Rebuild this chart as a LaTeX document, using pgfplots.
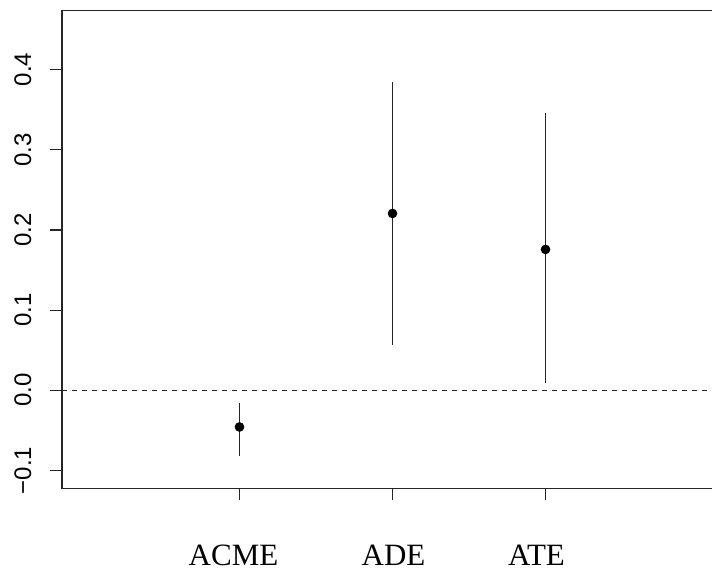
\documentclass[border=0pt]{standalone}
\usepackage{fontspec}
\setmainfont{Liberation Serif}
\setsansfont{Liberation Sans}
\usepackage{pgfplots}
\pgfplotsset{compat=1.18}

\begin{document}
\begin{tikzpicture}
\begin{axis}[
    at={(31pt,42.35pt)},
    anchor=south west,
    scale only axis,
    width=330.5pt,
    height=238.9pt,
    xmin=-0.16, xmax=4.16,
    ymin=-0.1223, ymax=0.4738,
    clip=false,
    axis line style={line width=0.75pt, black!85},
    tick style={line width=0.6pt, black!85},
    tick align=outside,
    major tick length=5.8pt,
    xtick pos=left,
    ytick pos=left,
    xtick={1,2,3},
    xticklabels={},
    ytick={-0.1,0,0.1,0.2,0.3,0.4},
    yticklabels={−0.1,0.0,0.1,0.2,0.3,0.4},
    yticklabel style={xshift=-6pt, rotate=90, anchor=south, font=\sffamily\fontsize{12}{12}\selectfont},
]
% confidence intervals and point estimates
\addplot[
    only marks,
    mark=*,
    mark size=2.2pt,
    mark options={fill=black, draw=black},
    error bars/.cd,
    y dir=both,
    y explicit,
    error mark=none,
    error bar style={line width=0.55pt, black!85},
] coordinates {
    (1, -0.0458) += (0, 0.0299) -= (0, 0.0366)
    (2, 0.2206)  += (0, 0.1643) -= (0, 0.1646)
    (3, 0.1757)  += (0, 0.1697) -= (0, 0.1670)
};

% reference line at zero
\draw[dash pattern=on 2.5pt off 2.5pt, line width=0.5pt, black!85]
    (axis cs:-0.16,0) -- (axis cs:4.16,0);

% category labels
\node[anchor=base, font=\fontsize{15.5}{15.5}\selectfont] at (axis cs:0.961,-0.2185) {ACME};
\node[anchor=base, font=\fontsize{15.5}{15.5}\selectfont] at (axis cs:2.007,-0.2185) {ADE};
\node[anchor=base, font=\fontsize{15.5}{15.5}\selectfont] at (axis cs:2.941,-0.2185) {ATE};
\end{axis}
\pgfresetboundingbox
\path[use as bounding box] (0,0) rectangle (356pt,286.5pt);
\end{tikzpicture}
\end{document}
